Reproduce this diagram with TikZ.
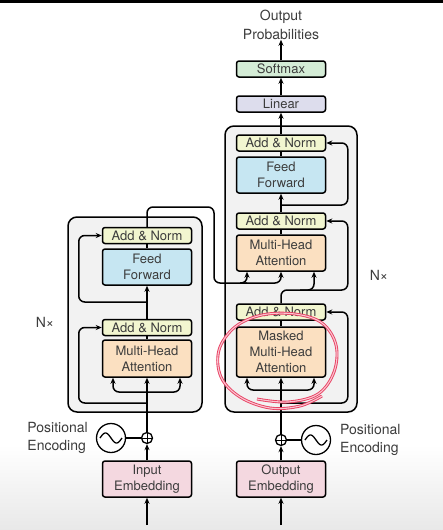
\documentclass[tikz,border=0pt]{standalone}
\usepackage{fontspec}
\setmainfont{TeX Gyre Heros}
\usetikzlibrary{calc, positioning, arrows.meta}
\definecolor{NormColour}{RGB}{242,246,208}
\definecolor{FFColour}{RGB}{198,230,242}
\definecolor{AttnColour}{RGB}{251,224,193}
\definecolor{EmbColour}{RGB}{244,216,224}
\definecolor{LinColour}{RGB}{221,221,237}
\definecolor{SoftColour}{RGB}{212,236,214}
\definecolor{blockgrey}{RGB}{242,242,242}
\definecolor{textgrey}{RGB}{60,60,60}
\definecolor{scribble}{RGB}{232,64,98}
\definecolor{scribblein}{RGB}{250,196,208}

\tikzset{
  layer/.style={draw, line width=1.5pt, rounded corners=2.5pt, minimum width=89pt,
    inner sep=0pt, align=center, text=textgrey, font=\fontsize{13}{16}\selectfont},
  addnorm/.style={layer, fill=NormColour, minimum height=16pt},
  ffbox/.style={layer, fill=FFColour, minimum height=36pt},
  attbox/.style={layer, fill=AttnColour, minimum height=36pt},
  embbox/.style={layer, fill=EmbColour, minimum height=36pt},
  block/.style={draw, line width=1.5pt, rounded corners=9pt, fill=blockgrey, inner sep=0pt},
  wave/.style={circle, draw, line width=1.3pt, minimum size=29pt, inner sep=0pt},
  plus/.style={circle, draw, line width=1.3pt, minimum size=11pt, inner sep=0pt, fill=white},
  caption/.style={text=textgrey, font=\fontsize{14}{18.5}\selectfont, inner sep=0pt},
  flow/.style={-{Stealth[length=6pt,width=5pt]}, line width=1.5pt},
  redloop/.style={draw=scribble, double=scribblein, double distance=1.1pt, line width=0.9pt},
}

\begin{document}
\begin{tikzpicture}[x=1pt, y=-1pt]
\useasboundingbox (0,0) rectangle (443,530);
% Backdrop
\fill[white] (0,0) rectangle (443,530);
\shade[top color=white, bottom color=black!9] (0,445) rectangle (443,530);
\fill[black] (0,0) rectangle (443,3);

% Encoder stack
\node[block, minimum width=134pt, minimum height=195pt] (encBlock) at (135,314.5) {};
\node[embbox]  (encEmb) at (147,479)   {Input\\Embedding};
\node[attbox, minimum height=37pt] (encMHA) at (147,358.5) {Multi-Head\\Attention};
\node[addnorm] (encAN1) at (147,327.5) {Add \& Norm};
\node[ffbox]   (encFF)  at (147,267)   {Feed\\Forward};
\node[addnorm] (encAN2) at (147,235.5) {Add \& Norm};
\node[plus]    (encPlus) at (147,438) {};
\node[wave]    (encPE)   at (111,438) {};
\node[caption, anchor=east, align=left] (encPElab) at (88,438) {Positional\\Encoding};
\node[caption] (encN) at (45,322) {N×};

% Decoder stack
\node[block, minimum width=132pt, minimum height=286pt] (decBlock) at (291,269) {};
\node[embbox]  (decEmb) at (281,479) {Output\\Embedding};
\node[attbox, minimum height=50pt] (decMMHA) at (281,352) {Masked\\Multi-Head\\Attention};
\node[addnorm] (decAN1) at (281,312) {Add \& Norm};
\node[attbox]  (decMHA) at (281,253) {Multi-Head\\Attention};
\node[addnorm] (decAN2) at (281,221) {Add \& Norm};
\node[ffbox]   (decFF)  at (281,175) {Feed\\Forward};
\node[addnorm] (decAN3) at (281,143) {Add \& Norm};
\node[plus]    (decPlus) at (281,440) {};
\node[wave]    (decPE)   at (316,440) {};
\node[caption, anchor=west, align=left] (decPElab) at (340,440) {Positional\\Encoding};
\node[caption] (decN) at (379,275) {N×};

% Output head
\node[layer, fill=LinColour, minimum height=16pt]  (linear)  at (281,104) {Linear};
\node[layer, fill=SoftColour, minimum height=16pt] (softmax) at (281,69)  {Softmax};
\node[caption, align=center] (outProb) at (281,25) {Output\\Probabilities};

% Wave and plus glyphs
\foreach \pe in {encPE, decPE}
  \draw[line width=1.3pt, shift={(\pe.center)}] plot[domain=-1:1, samples=40] ({11*\x}, {5*sin(180*\x)});
\foreach \pl in {encPlus, decPlus} {
  \draw[line width=1pt] (\pl.north) -- (\pl.south);
  \draw[line width=1pt] (\pl.west) -- (\pl.east);
}

% Encoder connectors
\coordinate (encIn) at (147,525);
\draw[flow] (encIn) -- (encEmb.south);
\draw[flow] (encEmb.north) -- (encPlus.south);
\draw[line width=1.3pt] (encPE.east) -- (encPlus.west);
\draw[flow] (encPlus.north) -- (encMHA.south);
\draw[flow, rounded corners=6pt] (147,392) -| ($(encMHA.south)+(-34,0)$);
\draw[flow, rounded corners=6pt] (147,392) -| ($(encMHA.south)+(33,0)$);
\draw[flow, rounded corners=6pt] (147,403) -| ($(encAN1.west)+(-23,0)$) -- (encAN1.west);
\draw[line width=1.5pt] (encMHA.north) -- (encAN1.south);
\draw[flow] (encAN1.north) -- (encFF.south);
\draw[flow, rounded corners=6pt] (147,302) -| ($(encAN2.west)+(-23,0)$) -- (encAN2.west);
\draw[line width=1.5pt] (encFF.north) -- (encAN2.south);
\draw[line width=1.5pt, rounded corners=6pt] (encAN2.north) |- (214,207) |- (247,283);
\draw[flow, rounded corners=6pt] (240,283) -| ($(decMHA.south)+(-34,0)$);
\draw[flow, rounded corners=6pt] (240,283) -| (decMHA.south);

% Decoder connectors
\coordinate (decIn) at (281,525);
\draw[flow] (decIn) -- (decEmb.south);
\draw[flow] (decEmb.north) -- (decPlus.south);
\draw[line width=1.3pt] (decPE.west) -- (decPlus.east);
\draw[flow] (decPlus.north) -- (decMMHA.south);
\draw[flow, rounded corners=6pt] (281,390) -| ($(decMMHA.south)+(-34,0)$);
\draw[flow, rounded corners=6pt] (281,390) -| ($(decMMHA.south)+(33,0)$);
\draw[flow, rounded corners=6pt] (281,403) -| ($(decAN1.east)+(21.5,0)$) -- (decAN1.east);
\draw[line width=1.5pt] (decMMHA.north) -- (decAN1.south);
\draw[flow, rounded corners=6pt] (decAN1.north) |- ($(decAN2.east)+(21.5,69)$) |- (decAN2.east);
\draw[flow, rounded corners=6pt] (300,290) -| ($(decMHA.south)+(33,0)$);
\draw[line width=1.5pt] (decMHA.north) -- (decAN2.south);
\draw[flow] (decAN2.north) -- (decFF.south);
\draw[flow, rounded corners=6pt] (281,205) -| ($(decAN3.east)+(21.5,0)$) -- (decAN3.east);
\draw[line width=1.5pt] (decFF.north) -- (decAN3.south);
\draw[flow] (decAN3.north) -- (linear.south);
\draw[flow] (linear.north) -- (softmax.south);
\draw[flow] (softmax.north) -- (outProb.south);

% Hand-drawn loop
\draw[redloop] plot[smooth, tension=0.6] coordinates {
  (257,399) (288,402) (318,394) (334,372) (336,345) (322,323) (295,314)
  (262,315) (235,327) (219,350) (221,377) (240,397) (270,408) (300,406) (322,396)};
\end{tikzpicture}
\end{document}
